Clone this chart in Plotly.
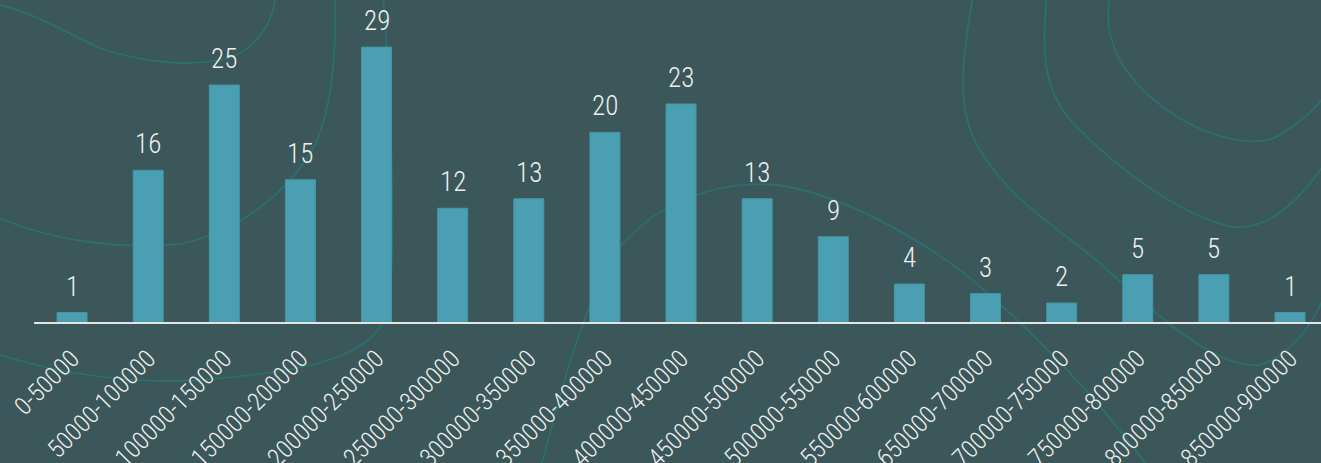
import plotly.graph_objects as go

categories = ["0-50000", "50000-100000", "100000-150000", "150000-200000",
              "200000-250000", "250000-300000", "300000-350000", "350000-400000",
              "400000-450000", "450000-500000", "500000-550000", "550000-600000",
              "650000-700000", "700000-750000", "750000-800000", "800000-850000",
              "850000-900000"]
counts = [1, 16, 25, 15, 29, 12, 13, 20, 23, 13, 9, 4, 3, 2, 5, 5, 1]

W, H = 1321, 463
ML, MR, MT, MB = 34, 0, 0, 141
PW, PH = W - ML - MR, H - MT - MB

BG = "#3b5759"
BAR = "#4aa0b2"
LINE = "#2c6f6c"
TXT = "#eeeeee"
FONT = "Liberation Sans Narrow, Roboto Condensed, DejaVu Sans Condensed, Arial Narrow, sans-serif"

fig = go.Figure()
fig.add_trace(go.Bar(
    x=list(range(len(categories))), y=counts,
    marker=dict(color=BAR, line=dict(color="#4596a6", width=1)),
    hoverinfo="x+y",
))

for i, v in enumerate(counts):
    fig.add_annotation(x=i, y=v, text=str(v), showarrow=False,
                       yanchor="bottom", yshift=8,
                       font=dict(family=FONT, size=27, color=TXT, weight=300))

# decorative contour lines (pixel coords -> paper coords)
def to_paper(pts):
    return [((x - ML) / PW, 1 - (y - MT) / PH) for x, y in pts]

def path(start, curves):
    s = to_paper([start])[0]
    d = f"M{s[0]:.4f},{s[1]:.4f}"
    for seg in curves:
        p = to_paper(seg)
        d += " C" + " ".join(f"{a:.4f},{b:.4f}" for a, b in p)
    return d

contours = [
    ((0, 5), [[(40, 15), (70, 35), (100, 48)], [(140, 62), (190, 68), (230, 58)], [(255, 48), (272, 25), (275, 0)]]),
    ((0, 218), [[(50, 240), (120, 250), (180, 244)], [(240, 232), (290, 190), (315, 145)], [(335, 100), (336, 40), (335, -5)]]),
    ((383, -5), [[(390, 80), (397, 250), (388, 310)], [(375, 360), (300, 372), (200, 380)], [(120, 385), (50, 370), (0, 355)]]),
    ((540, 470), [[(560, 400), (575, 320), (620, 247)], [(660, 200), (720, 180), (777, 185)], [(850, 195), (940, 250), (990, 295)], [(1040, 340), (1100, 400), (1150, 470)]]),
    ((973, -5), [[(962, 60), (955, 110), (980, 150)], [(1010, 200), (1060, 230), (1100, 263)], [(1160, 320), (1220, 370), (1260, 365)], [(1290, 355), (1310, 330), (1325, 295)]]),
    ((1047, -5), [[(1040, 60), (1045, 100), (1083, 133)], [(1120, 170), (1180, 215), (1233, 227)], [(1270, 230), (1300, 200), (1325, 163)]]),
    ((1110, -5), [[(1102, 40), (1120, 75), (1167, 110)], [(1210, 140), (1260, 150), (1283, 133)], [(1300, 122), (1315, 110), (1325, 95)]]),
]
for start, curves in contours:
    fig.add_shape(type="path", path=path(start, curves), xref="paper", yref="paper",
                  line=dict(color=LINE, width=1.8), layer="below")

fig.update_layout(
    width=W, height=H,
    margin=dict(l=ML, r=MR, t=MT, b=MB, pad=0, autoexpand=False),
    paper_bgcolor=BG, plot_bgcolor=BG,
    showlegend=False,
    bargap=0.606,
    xaxis=dict(
        range=[-0.5, 16.407],
        tickmode="array", tickvals=list(range(len(categories))), ticktext=categories,
        tickangle=-45,
        tickfont=dict(family=FONT, size=25, color=TXT, weight=300),
        showgrid=False, zeroline=False,
        showline=True, linecolor="#e4e4e4", linewidth=2,
        ticks="", ticklabelstandoff=10,
        automargin=False,
        fixedrange=True,
    ),
    yaxis=dict(range=[0, 33.97], visible=False, showgrid=False, zeroline=False,
               automargin=False, fixedrange=True),
)

fig.write_html("out.html")
